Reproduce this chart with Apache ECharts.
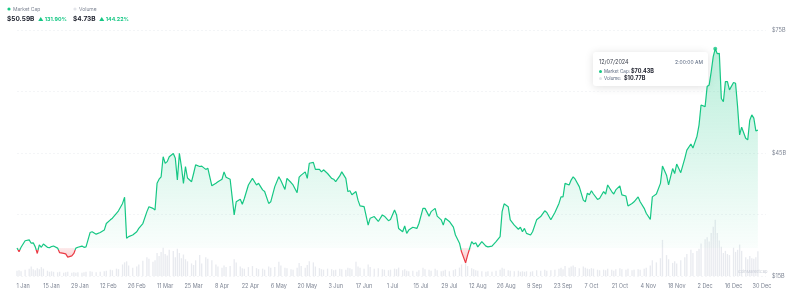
<!DOCTYPE html>
<html>
<head>
<meta charset="utf-8">
<script src="https://cdn.jsdelivr.net/npm/echarts@6/dist/echarts.min.js"></script>
<style>
html, body { margin: 0; padding: 0; background: #fff; }
#main { width: 792px; height: 294px; }
</style>
</head>
<body>
<div id="main"></div>
<script>
// day offsets from 1 Jan 2024
var days = [
    -3,-2,-1,1,3,4,5,6,7,8, 9,10,12,13,14,15,17,18,20,21, 22,24,25,26,27,29,30,31,33,34,
    36,38,40,41,43,44,46,47,49,50, 51,52,54,56,57,59,61,62,64,65, 66,67,68,69,70,71,72,74,75,76,
    77,78,79,80,81,83,84,85,87,88, 90,91,
    93,95,96,98,99,100,102,104,105,107, 108,109,111,113,115,116,118,119,121,122,
    124,126,127,129,130,132,133,135,136,137, 139,140,141,143,144,146,147,148,150,152,
    153,154,156,157,159,160,161,162,164,165, 166,168,170,171,173,175,177,178,180,181, 183,184,185,
    187,188,189,190,192,194,195,197,198,200, 201,203,204,206,207,208,210,212,213,215,
    216,218,219,221,222,223,224,226,228,229, 231,233,235,236,237,239,240,242,244,245,
    246,247,248,250,251,253,255,257,258,260, 262,264,265,266,267,269,270,271,272,274,
    276,277,278,279,280,281,283,284,
    286,287,288,290,291,292,294,295,297,298, 300,301,303,304,306,307,309,310,312,314,
    315,317,318,320,321,322,324,326,327,329, 330,332,333,334,336,337,338,339,340,341,
    342,343,344,345,346,347,348,350,351,352, 353,354,356,357,358,359,360,361,362
];
// market cap, $B
var marketCap = [
    21.82,20.9,22.0,23.6,23.8,23.0,23.1,22.1,20.5,22.6, 22.0,22.8,22.0,21.9,22.2,22.3,21.8,20.7,20.5,20.4,
    19.6,19.9,20.5,21.8,22.0,22.3,22.0,22.1,25.6,25.8, 25.2,25.6,26.2,27.8,28.7,29.1,30.3,30.9,32.7,34.2,
    24.2,24.6,25.0,25.8,26.6,27.8,30.7,31.9,31.5,31.1, 37.6,38.6,39.2,44.1,42.5,42.9,44.1,44.9,43.7,38.4,
    44.9,41.7,37.6,41.7,38.9,38.0,40.0,42.1,41.7,41.8, 41.0,41.3,
    37.0,37.6,38.0,38.6,40.4,39.1,38.6,29.9,33.1,33.7, 32.5,33.9,37.2,38.8,37.2,37.6,36.0,35.6,32.7,33.1,
    36.8,39.2,38.3,36.1,38.8,37.8,37.2,35.3,39.1,39.6, 40.4,38.8,42.5,42.7,41.0,41.0,40.4,40.9,40.0,38.8,
    38.6,38.0,39.4,40.4,38.8,35.6,35.8,34.8,35.6,33.5, 32.1,31.9,27.4,29.1,29.5,28.3,29.9,29.6,28.5,28.8,
    31.1,29.9,26.6,
    25.8,27.2,25.4,26.2,26.9,26.6,27.8,31.5,31.5,29.6, 30.7,31.5,29.6,28.7,27.4,29.1,28.3,26.9,25.0,23.0,
    20.9,18.2,20.1,23.4,22.8,23.1,22.1,23.4,22.3,22.1, 22.3,23.4,24.6,30.7,32.6,31.9,28.7,27.4,26.4,26.9,
    25.8,26.6,25.4,25.0,25.8,28.7,29.5,30.9,30.5,28.7, 30.5,32.7,34.3,34.3,37.6,37.2,38.4,39.2,38.6,36.8,
    33.5,33.1,35.2,34.8,35.8,35.0,33.7,33.9,
    35.6,35.0,37.2,35.6,35.0,36.0,37.0,34.8,34.5,32.1, 32.7,33.1,34.3,33.1,31.5,30.3,28.8,34.3,35.0,37.6,
    41.8,39.6,37.2,41.2,40.0,42.3,40.2,43.7,45.7,47.2, 46.2,49.1,51.8,56.7,56.3,61.2,61.6,64.8,68.5,70.43,
    69.2,69.3,58.3,57.5,62.4,62.4,60.4,62.2,62.0,56.3, 49.4,51.3,48.6,48.2,53.0,54.3,53.5,50.4,50.59
];
// 24h volume, $B
var volume = [
    1.0,1.1,0.9,1.2,1.4,1.8,1.3,1.1,1.5,1.3, 1.7,1.4,1.0,0.8,0.9,0.8,0.7,0.8,0.6,0.7,
    0.8,0.6,0.7,0.6,0.7,0.6,0.7,0.8,0.9,0.8, 0.7,0.8,0.9,1.0,1.2,1.1,1.4,1.3,2.2,2.6,
    2.8,2.0,1.6,1.8,2.2,2.9,3.6,3.3,2.7,3.0, 4.4,3.8,4.6,5.4,4.2,3.9,5.0,4.8,3.6,5.2,
    4.4,3.4,4.1,3.2,2.8,2.4,2.1,3.0,4.0,2.4, 3.6,3.3,
    3.0,2.2,1.8,1.6,2.0,1.7,1.9,3.2,2.6,1.8, 1.5,1.4,1.7,1.9,1.5,1.3,1.4,1.2,1.8,1.6,
    1.7,2.7,2.0,1.6,1.5,1.3,1.2,1.6,2.5,1.9, 1.6,2.1,2.8,2.6,1.8,1.5,1.3,1.2,1.4,1.3,
    1.1,1.2,1.4,1.3,1.2,1.6,1.5,1.3,2.7,1.8, 1.6,1.4,2.2,1.7,1.4,1.5,1.3,1.2,1.1,1.2,
    1.4,1.3,1.6,
    1.1,1.3,1.0,0.9,1.0,0.8,1.1,1.6,1.3,1.2, 1.0,1.4,1.1,0.9,1.0,1.2,0.9,1.1,1.3,1.6,
    2.2,2.6,1.9,1.5,1.3,1.1,1.0,0.9,0.8,0.9, 0.8,1.0,1.2,1.6,1.4,1.1,1.0,0.9,1.0,0.8,
    0.9,0.8,0.9,0.8,0.9,1.1,1.0,1.2,1.0,1.1, 1.2,1.4,1.6,1.3,1.9,1.6,1.8,2.0,1.7,1.5,
    1.8,1.6,1.4,1.3,1.5,1.4,1.2,1.1,
    1.2,1.1,1.4,1.2,1.0,1.3,1.5,1.3,1.2,1.4, 1.1,1.2,1.3,1.2,1.4,1.6,2.0,3.0,2.6,3.4,
    6.9,4.0,3.2,2.5,2.8,2.4,3.0,3.6,4.2,5.0, 4.4,4.8,5.2,6.2,7.0,7.4,6.6,8.2,9.4,10.77,
    8.2,6.8,5.6,4.4,4.8,4.2,4.0,5.4,4.6,5.0, 6.0,4.8,3.6,3.2,3.8,3.4,3.3,3.6,4.73
];
var xTickLabels = ['1 Jan','15 Jan','29 Jan','12 Feb','26 Feb','11 Mar','25 Mar','8 Apr','22 Apr','6 May',
    '20 May','3 Jun','17 Jun','1 Jul','15 Jul','29 Jul','12 Aug','26 Aug','9 Sep','23 Sep','7 Oct',
    '21 Oct','4 Nov','18 Nov','2 Dec','16 Dec','30 Dec'];
var yTickLabels = {75: '$75B', 45: '$45B', 15: '$15B'};

var green = '#16c784';
var red = '#ea3943';

window.addEventListener('load', function () {
    var base = marketCap[0];   // baseline = first value of the period
    var lineData = [], upData = [], downData = [], volData = [];
    var peakIdx = 0, lowIdx = 0;
    for (var i = 0; i < days.length; i++) {
        lineData.push([days[i], marketCap[i]]);
        upData.push([days[i], Math.max(marketCap[i], base)]);
        downData.push([days[i], Math.min(marketCap[i], base)]);
        volData.push([days[i], volume[i]]);
        if (marketCap[i] > marketCap[peakIdx]) peakIdx = i;
        if (marketCap[i] < marketCap[lowIdx]) lowIdx = i;
    }
    // where the baseline falls inside the line's own box (0 = top, 1 = bottom)
    var hi = marketCap[peakIdx], lo = marketCap[lowIdx];
    var cut = (hi - base) / (hi - lo);
    var lineColor = new echarts.graphic.LinearGradient(0, 0, 0, 1, [
        { offset: 0, color: green },
        { offset: cut, color: green },
        { offset: cut, color: red },
        { offset: 1, color: red }
    ]);
    // one label every two weeks, from 1 Jan
    var tickDays = xTickLabels.map(function (s, k) { return k * 14; });

    var myChart = echarts.init(document.getElementById('main'));
    var font = 'Inter, "Noto Sans", sans-serif';
    var option = {
        animation: false,
        textStyle: { fontFamily: font },
        grid: { left: 17, right: 26, top: 30, bottom: 18 },
        xAxis: {
            type: 'value',
            min: -3,
            max: 366,
            axisLine: { show: false },
            axisTick: { show: false },
            splitLine: { show: false },
            axisLabel: {
                customValues: tickDays,
                color: '#7d8493',
                fontSize: 5.5,
                margin: 7,
                formatter: function (v) {
                    var k = tickDays.indexOf(Math.round(v));
                    return k >= 0 ? xTickLabels[k] : '';
                }
            }
        },
        yAxis: [{
            type: 'value',
            position: 'right',
            min: 15,
            max: 75,
            interval: 15,
            axisLine: { show: false },
            axisTick: { show: false },
            axisLabel: {
                color: '#7d8493',
                fontSize: 5.5,
                margin: 6,
                formatter: function (v) { return yTickLabels[v] || ''; }
            },
            splitLine: { lineStyle: { color: '#eceef2', type: [2, 2], width: 0.6 } }
        }, {
            type: 'value',
            min: 0,
            max: 47,
            show: false,
            splitLine: { show: false }
        }],
        series: [{
            name: 'Volume',
            type: 'bar',
            yAxisIndex: 1,
            data: volData,
            barWidth: 1.3,
            itemStyle: { color: 'rgba(200,205,218,0.42)' },
            silent: true,
            z: 1
        }, {
            type: 'line',
            data: upData,
            showSymbol: false,
            silent: true,
            lineStyle: { width: 0 },
            areaStyle: {
                origin: base,
                color: new echarts.graphic.LinearGradient(0, 0, 0, 1, [
                    { offset: 0, color: 'rgba(22,199,132,0.42)' },
                    { offset: 1, color: 'rgba(22,199,132,0.03)' }
                ])
            },
            z: 2
        }, {
            type: 'line',
            data: downData,
            showSymbol: false,
            silent: true,
            lineStyle: { width: 0 },
            areaStyle: {
                origin: base,
                color: new echarts.graphic.LinearGradient(0, 0, 0, 1, [
                    { offset: 0, color: 'rgba(234,57,67,0.15)' },
                    { offset: 1, color: 'rgba(234,57,67,0.45)' }
                ])
            },
            z: 2
        }, {
            name: 'Market Cap',
            type: 'line',
            data: lineData,
            showSymbol: false,
            lineStyle: { width: 1.2, color: lineColor },
            itemStyle: { color: green },
            z: 3
        }, {
            type: 'scatter',
            data: [lineData[peakIdx]],
            symbolSize: 4,
            itemStyle: { color: green },
            z: 4
        }],
        graphic: [
            // header
            { type: 'circle', shape: { cx: 9, cy: 9, r: 1.6 }, style: { fill: green } },
            { type: 'text', x: 13, y: 9, style: { text: 'Market Cap', fontSize: 5, fill: '#7d8493', fontFamily: font, verticalAlign: 'middle' } },
            { type: 'text', x: 7, y: 19, style: { text: '$50.59B', fontSize: 6.5, fontWeight: 'bold', fill: '#222531', fontFamily: font, verticalAlign: 'middle' } },
            { type: 'text', x: 38, y: 19, style: { text: '▲ 131.90%', fontSize: 5.3, fontWeight: 'bold', fill: green, fontFamily: font, verticalAlign: 'middle' } },
            { type: 'circle', shape: { cx: 75, cy: 9, r: 1.6 }, style: { fill: '#e3e5ea' } },
            { type: 'text', x: 79, y: 9, style: { text: 'Volume', fontSize: 5, fill: '#7d8493', fontFamily: font, verticalAlign: 'middle' } },
            { type: 'text', x: 73, y: 19, style: { text: '$4.73B', fontSize: 6.5, fontWeight: 'bold', fill: '#222531', fontFamily: font, verticalAlign: 'middle' } },
            { type: 'text', x: 99, y: 19, style: { text: '▲ 144.22%', fontSize: 5.3, fontWeight: 'bold', fill: green, fontFamily: font, verticalAlign: 'middle' } },
            // tooltip box at the peak
            {
                type: 'group', x: 593, y: 52, z: 100,
                children: [
                    { type: 'rect', shape: { x: 0, y: 0, width: 115, height: 34, r: 3 },
                      style: { fill: '#fff', shadowBlur: 8, shadowColor: 'rgba(0,0,0,0.13)', shadowOffsetY: 1 } },
                    { type: 'text', x: 6, y: 10, style: { text: '12/07/2024', fontSize: 5.5, fill: '#3a3f4b', fontFamily: font, verticalAlign: 'middle' } },
                    { type: 'text', x: 110, y: 10, style: { text: '2:00:00 AM', fontSize: 5, fill: '#58667e', fontFamily: font, align: 'right', verticalAlign: 'middle' } },
                    { type: 'circle', shape: { cx: 7.5, cy: 19.5, r: 1.5 }, style: { fill: green } },
                    { type: 'text', x: 11, y: 19.5, style: { text: 'Market Cap:', fontSize: 4.5, fill: '#58667e', fontFamily: font, verticalAlign: 'middle' } },
                    { type: 'text', x: 38, y: 19.5, style: { text: '$70.43B', fontSize: 5.5, fontWeight: 'bold', fill: '#222531', fontFamily: font, verticalAlign: 'middle' } },
                    { type: 'circle', shape: { cx: 7.5, cy: 26.5, r: 1.5 }, style: { fill: '#e3e5ea' } },
                    { type: 'text', x: 11, y: 26.5, style: { text: 'Volume:', fontSize: 4.5, fill: '#58667e', fontFamily: font, verticalAlign: 'middle' } },
                    { type: 'text', x: 31, y: 26.5, style: { text: '$10.77B', fontSize: 5.5, fontWeight: 'bold', fill: '#222531', fontFamily: font, verticalAlign: 'middle' } }
                ]
            },
            // watermark
            { type: 'text', x: 738, y: 272, style: { text: 'CoinMarketCap', fontSize: 4, fill: '#c9cdd6', fontFamily: font, verticalAlign: 'middle' } }
        ]
    };
    if (option && typeof option === 'object') {
        myChart.setOption(option, true);
    }
});
</script>
</body>
</html>
